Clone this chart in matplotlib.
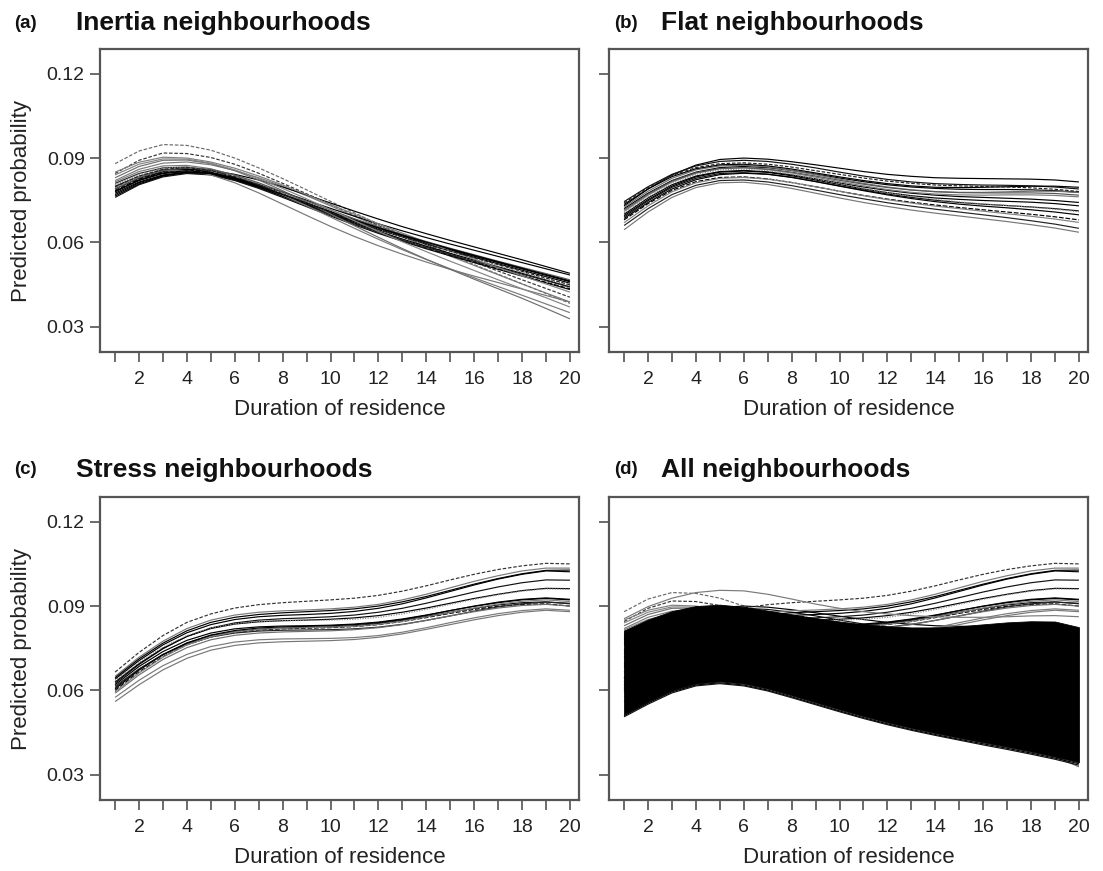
import matplotlib
matplotlib.use("Agg")
import matplotlib.pyplot as plt
import numpy as np

plt.rcParams['font.family'] = ['Liberation Sans', 'DejaVu Sans']

# ---------------- data ----------------
durations = list(range(1, 21))
x_tick_labels = ['' if d % 2 else str(d) for d in durations]
y_ticks = [0.03, 0.06, 0.09, 0.12]
y_tick_labels = ['0.03', '0.06', '0.09', '0.12']

panel_letters = ['(a)', '(b)', '(c)', '(d)']
panel_titles = ['Inertia neighbourhoods', 'Flat neighbourhoods',
                'Stress neighbourhoods', 'All neighbourhoods']
x_label = 'Duration of residence'
y_label = 'Predicted probability'

inertia_curves = [
    [0.0880,0.0925,0.0948,0.0945,0.0928,0.0900,0.0865,0.0827,0.0787,0.0746,0.0705,0.0665,0.0627,0.0591,0.0556,0.0521,0.0487,0.0453,0.0418,0.0383],
    [0.0845,0.0892,0.0918,0.0916,0.0902,0.0878,0.0846,0.0810,0.0773,0.0735,0.0697,0.0660,0.0625,0.0592,0.0560,0.0529,0.0498,0.0467,0.0436,0.0405],
    [0.0820,0.0860,0.0882,0.0886,0.0876,0.0856,0.0830,0.0800,0.0766,0.0730,0.0693,0.0656,0.0620,0.0585,0.0551,0.0518,0.0485,0.0452,0.0420,0.0388],
    [0.0790,0.0828,0.0852,0.0860,0.0856,0.0842,0.0822,0.0797,0.0769,0.0740,0.0711,0.0683,0.0656,0.0631,0.0607,0.0584,0.0561,0.0538,0.0514,0.0490],
    [0.0800,0.0835,0.0858,0.0862,0.0850,0.0826,0.0797,0.0765,0.0733,0.0702,0.0673,0.0645,0.0620,0.0596,0.0573,0.0551,0.0529,0.0507,0.0485,0.0463],
    [0.0780,0.0820,0.0845,0.0852,0.0845,0.0824,0.0797,0.0767,0.0736,0.0705,0.0675,0.0647,0.0620,0.0594,0.0570,0.0547,0.0524,0.0501,0.0478,0.0455],
    [0.0770,0.0812,0.0838,0.0848,0.0842,0.0822,0.0795,0.0764,0.0732,0.0700,0.0669,0.0640,0.0612,0.0586,0.0561,0.0537,0.0513,0.0490,0.0466,0.0442],
    [0.0760,0.0805,0.0833,0.0845,0.0840,0.0820,0.0792,0.0760,0.0727,0.0694,0.0662,0.0632,0.0604,0.0577,0.0552,0.0528,0.0504,0.0480,0.0456,0.0432],
    [0.0785,0.0825,0.0850,0.0858,0.0850,0.0829,0.0800,0.0768,0.0734,0.0700,0.0667,0.0636,0.0607,0.0580,0.0554,0.0530,0.0506,0.0482,0.0458,0.0435],
    [0.0810,0.0845,0.0865,0.0868,0.0856,0.0832,0.0801,0.0767,0.0732,0.0698,0.0666,0.0636,0.0608,0.0582,0.0557,0.0533,0.0510,0.0487,0.0464,0.0441],
    [0.0795,0.0835,0.0855,0.0855,0.0840,0.0812,0.0776,0.0736,0.0696,0.0657,0.0621,0.0588,0.0558,0.0530,0.0504,0.0480,0.0457,0.0434,0.0411,0.0388],
    [0.0815,0.0852,0.0872,0.0874,0.0862,0.0838,0.0806,0.0769,0.0730,0.0690,0.0650,0.0611,0.0574,0.0539,0.0506,0.0474,0.0443,0.0412,0.0381,0.0350],
    [0.0830,0.0870,0.0892,0.0893,0.0880,0.0855,0.0822,0.0784,0.0743,0.0701,0.0659,0.0618,0.0578,0.0540,0.0504,0.0469,0.0435,0.0401,0.0365,0.0328],
    [0.0775,0.0815,0.0840,0.0850,0.0846,0.0830,0.0806,0.0779,0.0750,0.0721,0.0693,0.0666,0.0641,0.0617,0.0594,0.0572,0.0550,0.0528,0.0506,0.0484],
    [0.0805,0.0842,0.0864,0.0868,0.0858,0.0836,0.0808,0.0776,0.0743,0.0710,0.0678,0.0648,0.0620,0.0593,0.0567,0.0542,0.0518,0.0494,0.0470,0.0446],
    [0.0765,0.0808,0.0836,0.0849,0.0845,0.0827,0.0801,0.0771,0.0740,0.0709,0.0679,0.0651,0.0624,0.0599,0.0575,0.0552,0.0529,0.0506,0.0483,0.0460],
    [0.0850,0.0885,0.0903,0.0900,0.0886,0.0864,0.0836,0.0804,0.0770,0.0735,0.0700,0.0666,0.0633,0.0601,0.0570,0.0540,0.0510,0.0481,0.0452,0.0423],
    [0.0790,0.0830,0.0856,0.0866,0.0860,0.0840,0.0812,0.0780,0.0747,0.0715,0.0684,0.0655,0.0628,0.0603,0.0579,0.0556,0.0533,0.0511,0.0489,0.0467],
    [0.0782,0.0822,0.0847,0.0855,0.0848,0.0828,0.0801,0.0771,0.0740,0.0709,0.0680,0.0652,0.0626,0.0601,0.0577,0.0554,0.0531,0.0508,0.0485,0.0462],
    [0.0798,0.0836,0.0860,0.0866,0.0856,0.0834,0.0805,0.0773,0.0740,0.0707,0.0676,0.0647,0.0620,0.0594,0.0569,0.0545,0.0521,0.0497,0.0473,0.0449],
    [0.0840,0.0878,0.0897,0.0896,0.0882,0.0858,0.0827,0.0792,0.0755,0.0716,0.0677,0.0639,0.0602,0.0567,0.0533,0.0500,0.0467,0.0435,0.0403,0.0370],
]

flat_curves = [
    [0.0730,0.0790,0.0840,0.0875,0.0895,0.0900,0.0896,0.0887,0.0876,0.0864,0.0852,0.0842,0.0835,0.0830,0.0828,0.0827,0.0826,0.0825,0.0822,0.0815],
    [0.0745,0.0798,0.0842,0.0872,0.0888,0.0892,0.0888,0.0878,0.0865,0.0850,0.0836,0.0824,0.0815,0.0809,0.0806,0.0804,0.0803,0.0801,0.0797,0.0790],
    [0.0720,0.0775,0.0820,0.0850,0.0866,0.0870,0.0866,0.0856,0.0843,0.0829,0.0816,0.0805,0.0797,0.0792,0.0789,0.0788,0.0788,0.0787,0.0784,0.0778],
    [0.0700,0.0758,0.0805,0.0836,0.0852,0.0856,0.0851,0.0840,0.0826,0.0811,0.0797,0.0785,0.0775,0.0768,0.0763,0.0760,0.0757,0.0754,0.0749,0.0742],
    [0.0690,0.0748,0.0796,0.0828,0.0845,0.0848,0.0843,0.0832,0.0817,0.0801,0.0786,0.0772,0.0760,0.0750,0.0742,0.0736,0.0731,0.0726,0.0720,0.0712],
    [0.0680,0.0738,0.0785,0.0816,0.0831,0.0833,0.0826,0.0813,0.0798,0.0782,0.0767,0.0754,0.0743,0.0733,0.0724,0.0716,0.0708,0.0700,0.0691,0.0680],
    [0.0660,0.0720,0.0770,0.0803,0.0820,0.0822,0.0815,0.0802,0.0786,0.0770,0.0755,0.0741,0.0729,0.0718,0.0708,0.0698,0.0688,0.0677,0.0665,0.0650],
    [0.0645,0.0708,0.0760,0.0795,0.0812,0.0814,0.0806,0.0792,0.0775,0.0758,0.0742,0.0728,0.0715,0.0704,0.0694,0.0684,0.0674,0.0663,0.0651,0.0636],
    [0.0710,0.0768,0.0815,0.0846,0.0862,0.0865,0.0859,0.0847,0.0832,0.0816,0.0801,0.0788,0.0778,0.0772,0.0769,0.0768,0.0769,0.0769,0.0767,0.0762],
    [0.0725,0.0782,0.0828,0.0858,0.0872,0.0874,0.0868,0.0856,0.0841,0.0825,0.0810,0.0797,0.0787,0.0781,0.0778,0.0778,0.0780,0.0782,0.0782,0.0778],
    [0.0695,0.0752,0.0800,0.0833,0.0850,0.0854,0.0849,0.0837,0.0822,0.0806,0.0790,0.0777,0.0766,0.0758,0.0753,0.0749,0.0746,0.0743,0.0738,0.0730],
    [0.0705,0.0762,0.0810,0.0842,0.0858,0.0861,0.0855,0.0842,0.0826,0.0809,0.0792,0.0777,0.0764,0.0753,0.0744,0.0737,0.0731,0.0725,0.0718,0.0709],
    [0.0735,0.0790,0.0834,0.0862,0.0876,0.0878,0.0872,0.0861,0.0847,0.0833,0.0820,0.0809,0.0801,0.0796,0.0795,0.0796,0.0798,0.0800,0.0800,0.0796],
    [0.0670,0.0730,0.0780,0.0812,0.0828,0.0831,0.0825,0.0813,0.0798,0.0782,0.0766,0.0752,0.0740,0.0729,0.0720,0.0711,0.0702,0.0693,0.0683,0.0671],
    [0.0715,0.0772,0.0818,0.0848,0.0863,0.0866,0.0861,0.0850,0.0836,0.0821,0.0807,0.0795,0.0786,0.0780,0.0777,0.0776,0.0776,0.0776,0.0774,0.0768],
    [0.0685,0.0742,0.0790,0.0823,0.0841,0.0846,0.0842,0.0831,0.0816,0.0800,0.0784,0.0769,0.0756,0.0745,0.0736,0.0729,0.0723,0.0716,0.0708,0.0698],
    [0.0740,0.0795,0.0838,0.0866,0.0880,0.0883,0.0878,0.0868,0.0855,0.0842,0.0829,0.0818,0.0810,0.0804,0.0801,0.0799,0.0797,0.0794,0.0789,0.0781],
]

stress_curves = [
    [0.0665,0.0735,0.0795,0.0842,0.0872,0.0893,0.0905,0.0912,0.0917,0.0922,0.0928,0.0938,0.0953,0.0972,0.0993,0.1013,0.1030,0.1043,0.1052,0.1050],
    [0.0650,0.0718,0.0775,0.0820,0.0850,0.0868,0.0878,0.0883,0.0886,0.0890,0.0896,0.0906,0.0922,0.0942,0.0965,0.0988,0.1008,0.1025,0.1035,0.1035],
    [0.0640,0.0706,0.0762,0.0805,0.0834,0.0852,0.0862,0.0867,0.0870,0.0874,0.0881,0.0892,0.0908,0.0929,0.0952,0.0975,0.0996,0.1013,0.1025,0.1022],
    [0.0625,0.0692,0.0748,0.0792,0.0822,0.0840,0.0850,0.0855,0.0858,0.0862,0.0868,0.0878,0.0892,0.0910,0.0930,0.0950,0.0968,0.0983,0.0993,0.0992],
    [0.0630,0.0695,0.0750,0.0792,0.0820,0.0836,0.0844,0.0848,0.0850,0.0853,0.0858,0.0866,0.0878,0.0893,0.0910,0.0927,0.0942,0.0955,0.0963,0.0962],
    [0.0620,0.0685,0.0738,0.0778,0.0804,0.0819,0.0826,0.0829,0.0830,0.0832,0.0836,0.0843,0.0854,0.0868,0.0884,0.0899,0.0912,0.0922,0.0927,0.0922],
    [0.0610,0.0675,0.0728,0.0768,0.0795,0.0810,0.0818,0.0822,0.0824,0.0826,0.0830,0.0838,0.0849,0.0863,0.0878,0.0892,0.0904,0.0912,0.0915,0.0908],
    [0.0600,0.0666,0.0720,0.0762,0.0790,0.0806,0.0815,0.0819,0.0821,0.0823,0.0827,0.0834,0.0845,0.0859,0.0874,0.0888,0.0899,0.0906,0.0908,0.0900],
    [0.0615,0.0676,0.0727,0.0765,0.0790,0.0804,0.0811,0.0814,0.0815,0.0816,0.0819,0.0825,0.0835,0.0849,0.0865,0.0882,0.0897,0.0908,0.0914,0.0910],
    [0.0560,0.0620,0.0673,0.0714,0.0743,0.0760,0.0769,0.0773,0.0775,0.0777,0.0781,0.0789,0.0801,0.0817,0.0834,0.0851,0.0866,0.0878,0.0885,0.0880],
    [0.0575,0.0636,0.0688,0.0728,0.0756,0.0772,0.0780,0.0783,0.0784,0.0785,0.0788,0.0795,0.0807,0.0823,0.0841,0.0858,0.0873,0.0884,0.0890,0.0885],
    [0.0590,0.0655,0.0710,0.0752,0.0780,0.0796,0.0804,0.0808,0.0810,0.0812,0.0816,0.0823,0.0834,0.0849,0.0865,0.0880,0.0893,0.0902,0.0906,0.0900],
    [0.0605,0.0672,0.0727,0.0769,0.0797,0.0813,0.0822,0.0826,0.0828,0.0830,0.0834,0.0841,0.0852,0.0867,0.0884,0.0900,0.0914,0.0924,0.0929,0.0924],
    [0.0635,0.0700,0.0754,0.0795,0.0822,0.0837,0.0845,0.0848,0.0849,0.0850,0.0853,0.0860,0.0872,0.0888,0.0906,0.0924,0.0940,0.0953,0.0961,0.0960],
    [0.0645,0.0712,0.0768,0.0812,0.0842,0.0860,0.0870,0.0876,0.0880,0.0884,0.0890,0.0900,0.0915,0.0934,0.0956,0.0978,0.0998,0.1015,0.1027,0.1028],
    [0.0595,0.0662,0.0718,0.0762,0.0791,0.0808,0.0817,0.0821,0.0823,0.0825,0.0828,0.0835,0.0846,0.0861,0.0877,0.0893,0.0907,0.0917,0.0922,0.0916],
]

# all neighbourhoods: envelope of the dense mass of curves
all_band_upper = [0.0812,0.0852,0.0882,0.0900,0.0905,0.0897,0.0884,0.0870,0.0857,0.0845,0.0835,0.0828,0.0824,0.0824,0.0828,0.0835,0.0842,0.0846,0.0845,0.0825]
all_band_lower = [0.0515,0.0560,0.0600,0.0624,0.0632,0.0624,0.0606,0.0582,0.0557,0.0532,0.0508,0.0486,0.0466,0.0448,0.0431,0.0415,0.0399,0.0382,0.0364,0.0344]
all_extra_curves = [
    [0.0855,0.0898,0.0928,0.0948,0.0956,0.0954,0.0942,0.0925,0.0907,0.0892,0.0880,0.0872,0.0866,0.0862,0.0860,0.0860,0.0862,0.0865,0.0866,0.0862],
    [0.0510,0.0555,0.0595,0.0619,0.0627,0.0619,0.0601,0.0577,0.0552,0.0527,0.0503,0.0481,0.0461,0.0443,0.0426,0.0410,0.0394,0.0377,0.0359,0.0339],
    [0.0506,0.0551,0.0591,0.0616,0.0624,0.0616,0.0598,0.0574,0.0549,0.0524,0.0500,0.0478,0.0458,0.0440,0.0423,0.0406,0.0390,0.0373,0.0355,0.0334],
]

# ---------------- styles ----------------
STYLE_CYCLE = [
    ('#6a6a6a', (0, (3, 1.5))),
    ('#333333', (0, (3, 1.5))),
    ('#7a7a7a', '-'),
    ('#000000', '-'),
    ('#111111', '-'),
    ('#000000', '-'),
    ('#000000', '-'),
    ('#111111', '-'),
    ('#000000', (0, (4, 1.5))),
    ('#222222', '-'),
    ('#777777', '-'),
    ('#7a7a7a', '-'),
    ('#6e6e6e', '-'),
    ('#000000', '-'),
    ('#8a8a8a', (0, (1, 1.2))),
    ('#000000', '-'),
    ('#808080', '-'),
    ('#555555', '-'),
    ('#000000', '-'),
    ('#222222', (0, (3, 1.5))),
    ('#858585', '-'),
]


def draw_curves(ax, curves, offset=0):
    for i, vals in enumerate(curves):
        col, ls = STYLE_CYCLE[(i + offset) % len(STYLE_CYCLE)]
        ax.plot(durations, vals, color=col, linestyle=ls, linewidth=0.85,
                solid_capstyle='butt', zorder=2)


fig = plt.figure(figsize=(11.03, 8.71), dpi=100)
W, H = 1103.0, 871.0
lefts = [100, 609]
tops = [49, 497]
aw, ah = 479, 303
positions = [(lefts[0], tops[0]), (lefts[1], tops[0]), (lefts[0], tops[1]), (lefts[1], tops[1])]

axes = []
for k, (lx, ty) in enumerate(positions):
    ax = fig.add_axes([lx / W, 1 - (ty + ah) / H, aw / W, ah / H])
    axes.append(ax)

for k, ax in enumerate(axes):
    ax.set_xlim(0.37, 20.38)
    ax.set_ylim(0.021, 0.1288)
    ax.set_xticks(durations)
    ax.set_xticklabels(x_tick_labels)
    ax.set_yticks(y_ticks)
    if k % 2 == 0:
        ax.set_yticklabels(y_tick_labels)
    else:
        ax.set_yticklabels([])
    ax.tick_params(axis='both', direction='out', length=7, width=1.1,
                   color='#444444', labelsize=14, labelcolor='#222222')
    ax.tick_params(axis='x', pad=7)
    ax.tick_params(axis='y', pad=4)
    for sp in ax.spines.values():
        sp.set_color('#555555')
        sp.set_linewidth(1.6)
        sp.set_zorder(5)
    ax.text(0.5, -0.19, x_label, transform=ax.transAxes, ha='center',
            va='center', fontsize=16, color='#222222')

draw_curves(axes[0], inertia_curves)
draw_curves(axes[1], flat_curves, offset=3)
draw_curves(axes[2], stress_curves, offset=1)

axd = axes[3]
draw_curves(axd, inertia_curves)
draw_curves(axd, flat_curves, offset=3)
draw_curves(axd, stress_curves, offset=1)
axd.fill_between(durations, all_band_lower, all_band_upper, color='black',
                 linewidth=0.6, edgecolor='black', zorder=3)
draw_curves(axd, all_extra_curves, offset=2)

# titles
title_y = [1 - 23 / H, 1 - 470 / H]
letter_x = [14 / W, 614 / W]
title_x = [76 / W, 661 / W]
for k in range(4):
    col = k % 2
    row = k // 2
    fig.text(letter_x[col], title_y[row], panel_letters[k], fontsize=13.5,
             fontweight='bold', ha='left', va='center', color='#111111')
    fig.text(title_x[col], title_y[row], panel_titles[k], fontsize=19,
             fontweight='bold', ha='left', va='center', color='#111111')

# y labels
for row in range(2):
    fig.text(22 / W, 1 - (tops[row] + ah / 2) / H, y_label, rotation=90,
             ha='center', va='center', fontsize=16, color='#222222')

fig.savefig('out.png', dpi=100)
